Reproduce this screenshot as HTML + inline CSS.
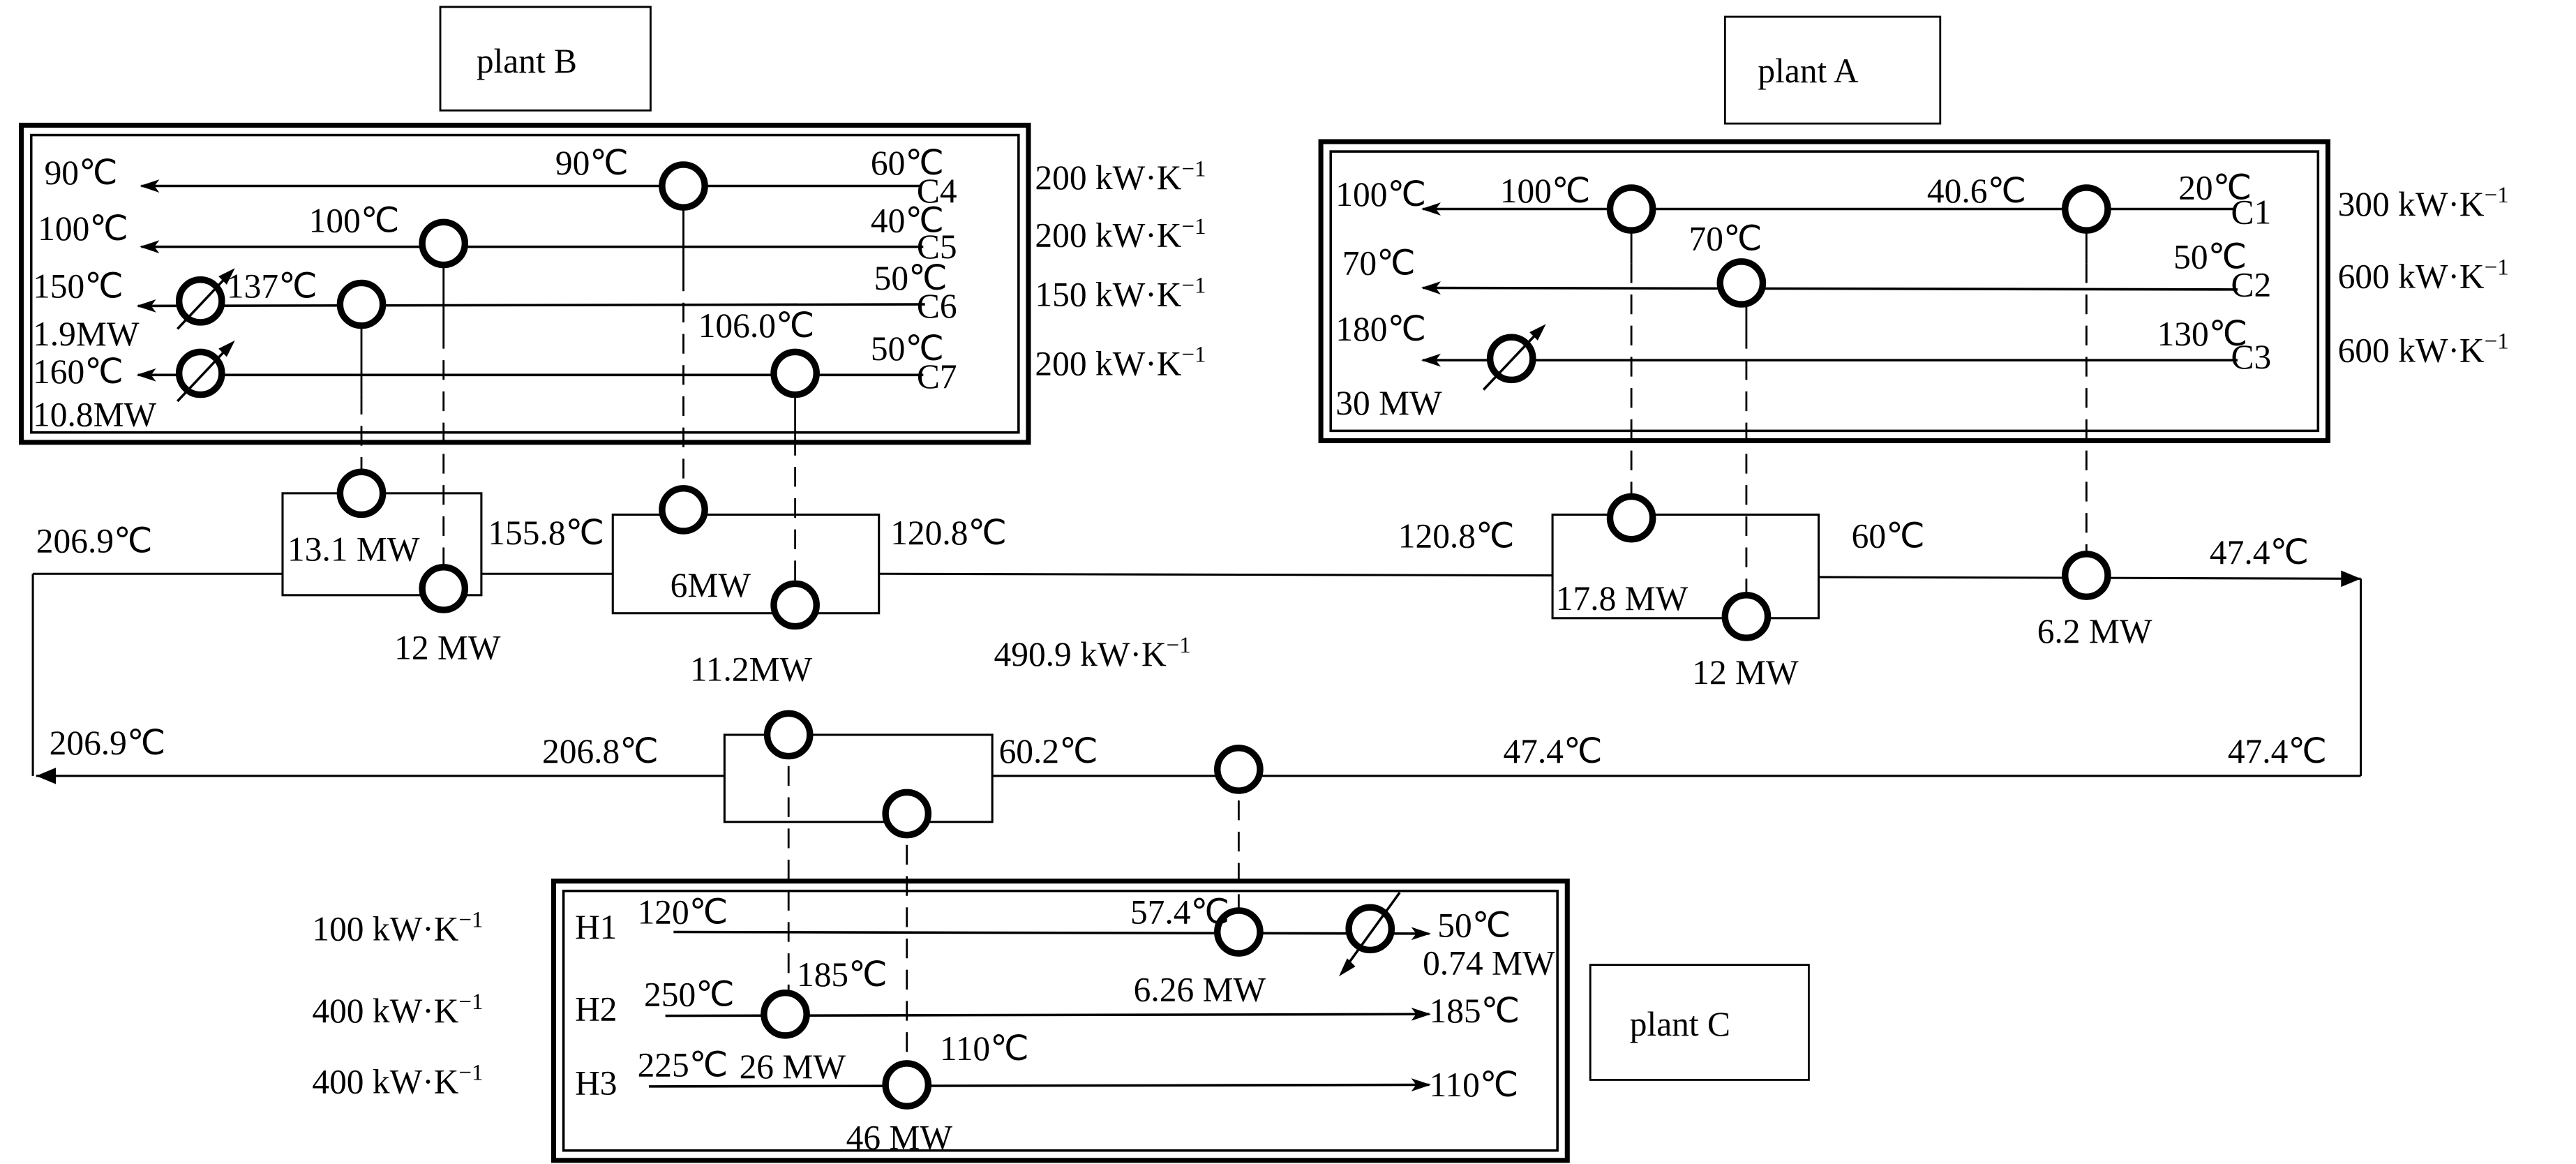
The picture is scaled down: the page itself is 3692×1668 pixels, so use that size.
<!DOCTYPE html>
<html><head><meta charset="utf-8"><style>
html,body{margin:0;padding:0;background:#fff;}
svg{display:block;}
text{font-family:"Liberation Serif",serif;font-size:21px;fill:#000;}
</style></head><body>
<svg width="3692" height="1668" viewBox="0 0 1568 708" xmlns="http://www.w3.org/2000/svg">
<defs>
<marker id="ar" markerWidth="12" markerHeight="8" refX="11" refY="4" orient="auto" markerUnits="userSpaceOnUse">
<path d="M0,0 L12,4 L0,8 L3,4 Z" fill="#000"/></marker>
</defs>
<g fill="none" stroke="#000">
<rect x="268" y="4" width="128" height="63" stroke-width="1.2"/>
<rect x="1050" y="10" width="131" height="65" stroke-width="1.2"/>
<rect x="968" y="587" width="133" height="70" stroke-width="1.2"/>
<rect x="13" y="76" width="613" height="193" stroke-width="3"/>
<rect x="19" y="82" width="601" height="181" stroke-width="1.5"/>
<rect x="804" y="86" width="613" height="182" stroke-width="3"/>
<rect x="810" y="92" width="601" height="170" stroke-width="1.5"/>
<rect x="337" y="536" width="617" height="170" stroke-width="3"/>
<rect x="343" y="542" width="605" height="158" stroke-width="1.5"/>
<g stroke-width="1.5" marker-end="url(#ar)">
<line x1="560" y1="113" x2="86" y2="113"/>
<line x1="562" y1="150" x2="86" y2="150"/>
<line x1="563" y1="185" x2="84" y2="186"/>
<line x1="562" y1="228" x2="84" y2="228"/>
<line x1="1360" y1="127" x2="866" y2="127"/>
<line x1="1362" y1="176" x2="866" y2="175"/>
<line x1="1362" y1="219" x2="866" y2="219"/>
<line x1="410" y1="567" x2="870" y2="568"/>
<line x1="405" y1="618" x2="870" y2="617"/>
<line x1="395" y1="661" x2="870" y2="660"/>
</g>
<g stroke-width="1.3">
<line x1="1437" y1="472" x2="1437" y2="352"/>
<line x1="20" y1="349" x2="20" y2="472"/>
<line x1="20" y1="349" x2="172" y2="349"/>
<line x1="293" y1="349" x2="373" y2="349"/>
<line x1="535" y1="349" x2="945" y2="350"/>
<line x1="1107" y1="351" x2="1437" y2="352"/>
<line x1="1437" y1="472" x2="604" y2="472"/>
<line x1="441" y1="472" x2="22" y2="472"/>
<rect x="172" y="300" width="121" height="62"/>
<rect x="373" y="313" width="162" height="60"/>
<rect x="945" y="313" width="162" height="63"/>
<rect x="441" y="447" width="163" height="53"/>
</g>
<path d="M1425,347 L1437,352 L1425,357 Z" fill="#000" stroke="none"/>
<path d="M34,467 L22,472 L34,477 Z" fill="#000" stroke="none"/>
<g stroke-width="1.2">
<line x1="220" y1="185" x2="220" y2="240"/>
<line x1="270" y1="148" x2="270" y2="200"/>
<line x1="416" y1="113" x2="416" y2="165"/>
<line x1="484" y1="227" x2="484" y2="265"/>
<line x1="993" y1="127" x2="993" y2="160"/>
<line x1="1063" y1="172" x2="1063" y2="200"/>
<line x1="1270" y1="127" x2="1270" y2="160"/>
</g>
<g stroke-width="1.2" stroke-dasharray="12,7">
<line x1="220" y1="240" x2="220" y2="300"/>
<line x1="270" y1="200" x2="270" y2="358"/>
<line x1="416" y1="165" x2="416" y2="310"/>
<line x1="484" y1="265" x2="484" y2="368"/>
<line x1="993" y1="160" x2="993" y2="315"/>
<line x1="1063" y1="200" x2="1063" y2="375"/>
<line x1="1270" y1="160" x2="1270" y2="350"/>
<line x1="480" y1="447" x2="480" y2="617"/>
<line x1="552" y1="495" x2="552" y2="660"/>
<line x1="754" y1="468" x2="754" y2="567"/>
</g>
<g stroke-width="4" fill="#fff">
<circle cx="416" cy="113" r="13"/>
<circle cx="270" cy="148" r="13"/>
<circle cx="122" cy="183" r="13"/>
<circle cx="220" cy="185" r="13"/>
<circle cx="122" cy="227" r="13"/>
<circle cx="484" cy="227" r="13"/>
<circle cx="993" cy="127" r="13"/>
<circle cx="1270" cy="127" r="13"/>
<circle cx="1060" cy="172" r="13"/>
<circle cx="920" cy="218" r="13"/>
<circle cx="220" cy="300" r="13"/>
<circle cx="270" cy="358" r="13"/>
<circle cx="416" cy="310" r="13"/>
<circle cx="484" cy="368" r="13"/>
<circle cx="993" cy="315" r="13"/>
<circle cx="1063" cy="375" r="13"/>
<circle cx="1270" cy="350" r="13"/>
<circle cx="480" cy="447" r="13"/>
<circle cx="552" cy="495" r="13"/>
<circle cx="754" cy="468" r="13"/>
<circle cx="754" cy="567" r="13"/>
<circle cx="834" cy="565" r="13"/>
<circle cx="478" cy="617" r="13"/>
<circle cx="552" cy="660" r="13"/>
</g>
<g stroke-width="1.5">
<line x1="108" y1="200" x2="140" y2="166"/>
<line x1="108" y1="244" x2="140" y2="210"/>
<line x1="903" y1="237" x2="938" y2="200"/>
<line x1="818" y1="590" x2="852" y2="543"/>
</g>
<path d="M143,163 L133,168 L138,173 Z" fill="#000" stroke="none"/>
<path d="M143,207 L133,212 L138,217 Z" fill="#000" stroke="none"/>
<path d="M941,197 L931,202 L936,207 Z" fill="#000" stroke="none"/>
<path d="M815,594 L820,583 L825,588 Z" fill="#000" stroke="none"/>
</g>
<text x="290" y="44">plant B</text>
<text x="1070" y="50">plant A</text>
<text x="992" y="630">plant C</text>

<text x="27" y="112">90℃</text>
<text x="338" y="106">90℃</text>
<text x="530" y="106">60℃</text>
<text x="558" y="123">C4</text>
<text x="630" y="115">200 kW·K<tspan font-size="14" dy="-8">−1</tspan></text>
<text x="23" y="146">100℃</text>
<text x="188" y="141">100℃</text>
<text x="530" y="141">40℃</text>
<text x="558" y="157">C5</text>
<text x="630" y="150">200 kW·K<tspan font-size="14" dy="-8">−1</tspan></text>
<text x="20" y="181">150℃</text>
<text x="138" y="181">137℃</text>
<text x="532" y="176">50℃</text>
<text x="558" y="193">C6</text>
<text x="630" y="186">150 kW·K<tspan font-size="14" dy="-8">−1</tspan></text>
<text x="20" y="210">1.9MW</text>
<text x="20" y="233">160℃</text>
<text x="425" y="205">106.0℃</text>
<text x="530" y="219">50℃</text>
<text x="558" y="236">C7</text>
<text x="630" y="228">200 kW·K<tspan font-size="14" dy="-8">−1</tspan></text>
<text x="20" y="259">10.8MW</text>

<text x="813" y="125">100℃</text>
<text x="913" y="123">100℃</text>
<text x="1173" y="123">40.6℃</text>
<text x="1326" y="121">20℃</text>
<text x="1358" y="136">C1</text>
<text x="1423" y="131">300 kW·K<tspan font-size="14" dy="-8">−1</tspan></text>
<text x="817" y="167">70℃</text>
<text x="1028" y="152">70℃</text>
<text x="1323" y="163">50℃</text>
<text x="1358" y="180">C2</text>
<text x="1423" y="175">600 kW·K<tspan font-size="14" dy="-8">−1</tspan></text>
<text x="813" y="207">180℃</text>
<text x="1313" y="210">130℃</text>
<text x="1358" y="224">C3</text>
<text x="1423" y="220">600 kW·K<tspan font-size="14" dy="-8">−1</tspan></text>
<text x="813" y="252">30 MW</text>

<text x="22" y="336">206.9℃</text>
<text x="175" y="341">13.1 MW</text>
<text x="297" y="331">155.8℃</text>
<text x="542" y="331">120.8℃</text>
<text x="408" y="363">6MW</text>
<text x="240" y="401">12 MW</text>
<text x="420" y="414">11.2MW</text>
<text x="605" y="405">490.9 kW·K<tspan font-size="14" dy="-8">−1</tspan></text>
<text x="851" y="333">120.8℃</text>
<text x="1127" y="333">60℃</text>
<text x="947" y="371">17.8 MW</text>
<text x="1030" y="416">12 MW</text>
<text x="1240" y="391">6.2 MW</text>
<text x="1345" y="343">47.4℃</text>

<text x="30" y="459">206.9℃</text>
<text x="330" y="464">206.8℃</text>
<text x="608" y="464">60.2℃</text>
<text x="915" y="464">47.4℃</text>
<text x="1356" y="464">47.4℃</text>

<text x="190" y="572">100 kW·K<tspan font-size="14" dy="-8">−1</tspan></text>
<text x="190" y="622">400 kW·K<tspan font-size="14" dy="-8">−1</tspan></text>
<text x="190" y="665">400 kW·K<tspan font-size="14" dy="-8">−1</tspan></text>
<text x="350" y="571">H1</text>
<text x="350" y="621">H2</text>
<text x="350" y="666">H3</text>
<text x="388" y="562">120℃</text>
<text x="688" y="562">57.4℃</text>
<text x="875" y="570">50℃</text>
<text x="866" y="593">0.74 MW</text>
<text x="690" y="609">6.26 MW</text>
<text x="392" y="612">250℃</text>
<text x="485" y="600">185℃</text>
<text x="870" y="622">185℃</text>
<text x="388" y="655">225℃</text>
<text x="450" y="656">26 MW</text>
<text x="572" y="645">110℃</text>
<text x="870" y="667">110℃</text>
<text x="515" y="699">46 MW</text>
</svg>
</body></html>
